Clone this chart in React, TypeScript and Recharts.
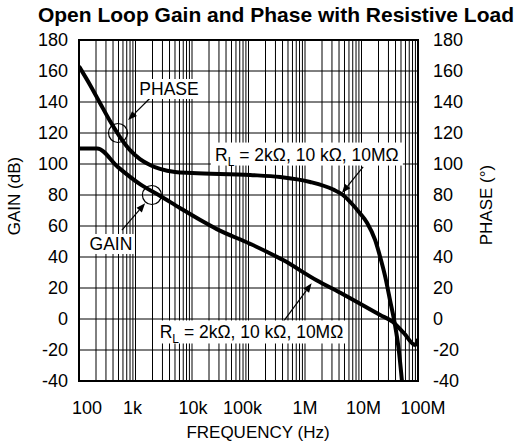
import { LineChart, Line, XAxis, YAxis, CartesianGrid, ReferenceArea, ReferenceDot, ReferenceLine } from "recharts";

const decadeTicks = [100, 1e3, 1e4, 1e5, 1e6, 1e7, 1e8];
const decadeLabels = ["100", "1k", "10k", "100k", "1M", "10M", "100M"];
const levelTicks = [-40, -20, 0, 20, 40, 60, 80, 100, 120, 140, 160, 180];
const multiples = [1, 2, 3, 4, 5, 6, 7, 8, 9];

// log grid: 1..9 in every decade
const gridTicks = decadeTicks
  .slice(0, -1)
  .flatMap((d) => multiples.map((m) => m * d))
  .concat([1e8]);

// gain curve (dB)
const gainFreq = [100, 210, 490, 1200, 2700, 6200, 13800, 27500, 107000, 410000, 1.6e6, 4.7e6, 2.14e7, 3.6e7, 5.6e7, 8.9e7, 1e8];
const gainDb = [110, 110, 98, 87, 79.5, 71.5, 64, 58, 48.5, 38, 25, 16, 2.6, -1.9, -9, -16.8, -12.9];

// phase curve (degrees)
const phaseFreq = [
  100, 157, 235, 354, 532, 800, 1200, 1810, 2720, 5010, 10000, 107000, 363000, 1.23e6, 3.16e6, 4.7e6, 6.5e6,
  9.3e6, 1.26e7, 1.74e7, 2.14e7, 2.64e7, 3.19e7, 3.89e7, 4.57e7, 5.2e7,
];
const phaseDeg = [
  163, 151, 139.4, 127.7, 117.4, 109, 103.2, 99.4, 96.8, 94.8, 94.2, 92.9, 91.6, 88.4, 83.5, 80, 75,
  68.4, 62, 51, 40, 27, 12.3, -3.2, -20, -40,
];

// annotations (frequency, level)
const circleFreq = [490, 1950];
const circleLevel = [120, 80];
const tagText = ["PHASE", "GAIN", "RL", "RL"];
const tagFreq = [3920, 368, 1.08e6, 113000];
const tagLevel = [148.4, 48.4, 106.1, -8.7];
const arrowFrom = [[1820, 142.6], [575, 57.4], [1.07e7, 98.1], [413000, -1.7]];
const arrowTo = [[740, 128.4], [1480, 74.6], [4.5e6, 81.3], [1.31e6, 23]];

const gainData = gainFreq.map((f, i) => ({ f, gain: gainDb[i] }));
const phaseData = phaseFreq.map((f, i) => ({ f, phase: phaseDeg[i] }));

const FONT = "'Liberation Sans', Arial, Helvetica, sans-serif";

// frequency labels sit a little off their decade lines in the original
const labelShift = [8, -3, 1, -6, 0, 2, 5];

const FreqTick = (p: any) => {
  const i = decadeTicks.indexOf(p.payload.value);
  if (i < 0) return null;
  return (
    <text x={p.x + labelShift[i]} y={p.y} dy="0.71em" textAnchor="middle" fontSize={18} fontFamily={FONT} fill="#000">
      {decadeLabels[i]}
    </text>
  );
};

const Tag = ({ cx, cy, text }: { cx: number; cy: number; text: string }) => {
  if (text === "RL") {
    return (
      <g>
        <rect x={cx - 96} y={cy - 12} width={192} height={23} fill="#fff" />
        <text x={cx} y={cy + 6} textAnchor="middle" fontSize={17.5} fontFamily={FONT} fill="#000">
          R
          <tspan fontSize={12} dy={5}>L</tspan>
          <tspan dy={-5}>{" = 2k\u03A9, 10 k\u03A9, 10M\u03A9"}</tspan>
        </text>
      </g>
    );
  }
  const w = text === "PHASE" ? 62 : 46;
  return (
    <g>
      <rect x={cx - w / 2} y={cy - 10} width={w} height={20} fill="#fff" />
      <text x={cx} y={cy + 6} textAnchor="middle" fontSize={17.5} fontFamily={FONT} fill="#000">
        {text}
      </text>
    </g>
  );
};

const Arrow = (p: any) => {
  const { x1, y1, x2, y2 } = p;
  const a = Math.atan2(y2 - y1, x2 - x1);
  const len = 9;
  const w = 3.5;
  const bx = x2 - len * Math.cos(a);
  const by = y2 - len * Math.sin(a);
  const pts = `${x2},${y2} ${bx - w * Math.sin(a)},${by + w * Math.cos(a)} ${bx + w * Math.sin(a)},${by - w * Math.cos(a)}`;
  return (
    <g>
      <line x1={x1} y1={y1} x2={bx} y2={by} stroke="#000" strokeWidth={1.2} />
      <polygon points={pts} fill="#000" />
    </g>
  );
};

const tickStyle = { fontSize: 18, fontFamily: FONT, fill: "#000" };

export default function App() {
  return (
    <div style={{ position: "absolute", left: 0, top: 0, width: 526, height: 445, background: "#fff", fontFamily: FONT }}>
      <div
        style={{
          position: "absolute",
          left: 26,
          top: 4,
          width: 500,
          textAlign: "center",
          fontSize: 21,
          lineHeight: "22px",
          fontWeight: "bold",
          color: "#000",
          whiteSpace: "nowrap",
        }}
      >
        Open Loop Gain and Phase with Resistive Load
      </div>
      <LineChart width={526} height={445} margin={{ top: 40, right: 48, bottom: 24, left: 19 }}>
        <CartesianGrid stroke="#000" strokeWidth={1} />
        <XAxis
          dataKey="f"
          type="number"
          scale="log"
          domain={[100, 1e8]}
          allowDataOverflow
          ticks={gridTicks}
          interval={0}
          axisLine={false}
          tickLine={false}
          tickSize={0}
          tickMargin={20}
          height={40}
          tick={<FreqTick />}
        />
        <YAxis
          type="number"
          domain={[-40, 180]}
          ticks={levelTicks}
          interval={0}
          axisLine={false}
          tickLine={false}
          tickSize={0}
          tickMargin={11}
          width={60}
          tick={tickStyle}
        />
        <YAxis
          yAxisId="right"
          orientation="right"
          type="number"
          domain={[-40, 180]}
          ticks={levelTicks}
          interval={0}
          axisLine={false}
          tickLine={false}
          tickSize={0}
          tickMargin={15}
          width={60}
          tick={tickStyle}
        />
        <Line
          data={gainData}
          dataKey="gain"
          type="monotone"
          stroke="#000"
          strokeWidth={4}
          dot={false}
          isAnimationActive={false}
        />
        <Line
          data={phaseData}
          dataKey="phase"
          yAxisId="right"
          type="monotone"
          stroke="#000"
          strokeWidth={4}
          dot={false}
          isAnimationActive={false}
        />
        {circleFreq.map((f, i) => (
          <ReferenceDot key={"c" + i} x={f} y={circleLevel[i]} r={9.5} fill="none" stroke="#000" strokeWidth={1.2} />
        ))}
        {arrowFrom.map((a, i) => (
          <ReferenceLine
            key={"a" + i}
            segment={[
              { x: a[0], y: a[1] },
              { x: arrowTo[i][0], y: arrowTo[i][1] },
            ]}
            shape={(p: any) => <Arrow {...p} />}
          />
        ))}
        {tagText.map((t, i) => (
          <ReferenceDot
            key={"t" + i}
            x={tagFreq[i]}
            y={tagLevel[i]}
            r={0}
            shape={(p: any) => <Tag cx={p.cx} cy={p.cy} text={t} />}
          />
        ))}
        <ReferenceArea x1={100} x2={1e8} y1={-40} y2={180} fill="none" fillOpacity={0} stroke="#000" strokeWidth={2} />
      </LineChart>
      <div
        style={{
          position: "absolute",
          left: 15,
          top: 196,
          transform: "translate(-50%, -50%) rotate(-90deg)",
          fontSize: 17,
          whiteSpace: "nowrap",
          color: "#000",
        }}
      >
        GAIN (dB)
      </div>
      <div
        style={{
          position: "absolute",
          left: 487,
          top: 205,
          transform: "translate(-50%, -50%) rotate(-90deg)",
          fontSize: 17,
          whiteSpace: "nowrap",
          color: "#000",
        }}
      >
        PHASE (°)
      </div>
      <div
        style={{
          position: "absolute",
          left: 258,
          top: 433,
          transform: "translate(-50%, -50%)",
          fontSize: 17,
          whiteSpace: "nowrap",
          color: "#000",
        }}
      >
        FREQUENCY (Hz)
      </div>
    </div>
  );
}
